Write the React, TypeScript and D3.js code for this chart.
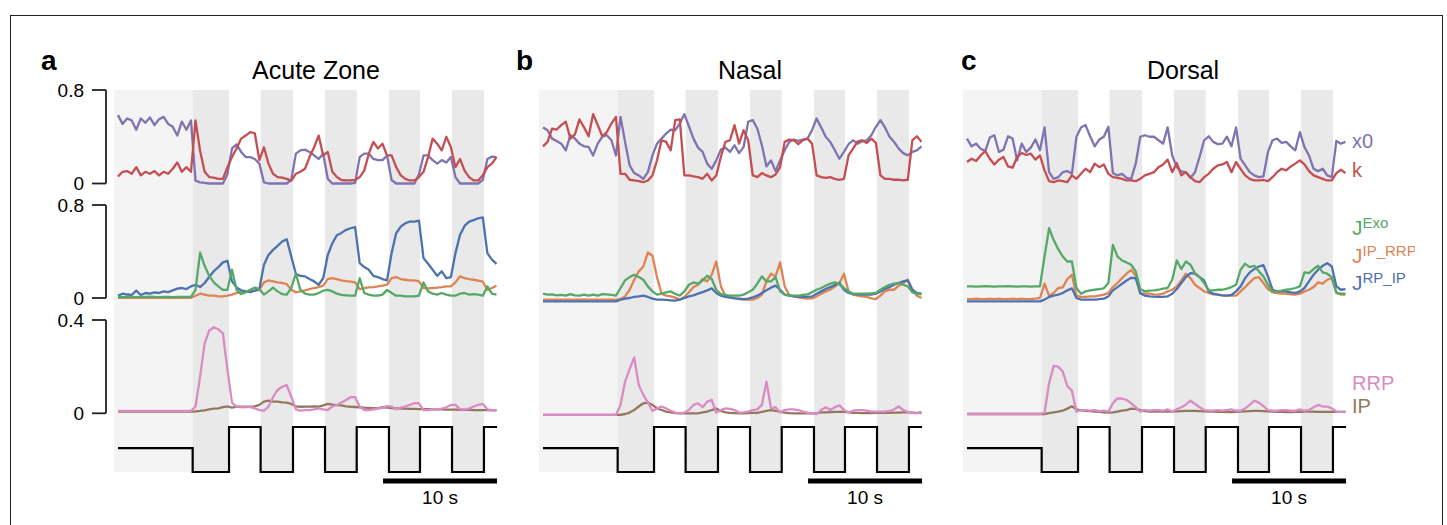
import React from "react";
import * as d3 from "d3";

const SAMPLE_DT = 0.4;
const T_END = 33.25;

const stimTimes = [0, 6.55, 9.74, 12.51, 15.35, 18.16, 20.94, 23.77, 26.49, 29.3, 32.1, 33.25];
const stimLevels = [0.53, 0, 1, 0, 1, 0, 1, 0, 1, 0, 1, 1];

const acuteX0 = [0.585,0.51,0.556,0.54,0.46,0.556,0.52,0.565,0.50,0.55,0.57,0.51,0.485,0.41,0.53,0.46,0.54,0.025,0.01,0.005,0,0,0,0,0.08,0.30,0.335,0.27,0.226,0.226,0.21,0.17,0.01,0,0,0,0,0,0.03,0.255,0.284,0.29,0.27,0.24,0.21,0.255,0.04,0,0,0,0,0,0.005,0.226,0.255,0.255,0.21,0.20,0.20,0.24,0.03,0,0,0,0,0,0.08,0.24,0.24,0.20,0.17,0.20,0.18,0.226,0.055,0,0,0,0,0,0.03,0.21,0.23,0.226];
const acuteK = [0.06,0.1,0.106,0.083,0.14,0.07,0.1,0.083,0.106,0.07,0.1,0.083,0.126,0.18,0.1,0.14,0.1,0.54,0.28,0.1,0.055,0.05,0.04,0.04,0.14,0.226,0.3,0.384,0.41,0.44,0.43,0.2,0.31,0.17,0.083,0.055,0.05,0.04,0.025,0.083,0.1,0.126,0.226,0.31,0.41,0.24,0.27,0.1,0.055,0.03,0.026,0.026,0.03,0.055,0.11,0.255,0.355,0.3,0.34,0.24,0.24,0.14,0.07,0.04,0.026,0.026,0.055,0.1,0.226,0.384,0.34,0.284,0.4,0.31,0.14,0.21,0.11,0.055,0.026,0.026,0.07,0.14,0.17,0.226];
const acuteJExo = [0.01,0.008,0.01,0.01,0.008,0.01,0.01,0.012,0.01,0.008,0.01,0.01,0.008,0.01,0.01,0.01,0.01,0.07,0.39,0.277,0.19,0.134,0.1,0.07,0.07,0.243,0.07,0.034,0.049,0.07,0.09,0.077,0.029,0.057,0.09,0.057,0.034,0.029,0.086,0.209,0.07,0.037,0.029,0.029,0.043,0.063,0.07,0.057,0.037,0.026,0.023,0.02,0.02,0.17,0.043,0.029,0.02,0.02,0.029,0.07,0.043,0.02,0.02,0.014,0.014,0.014,0.02,0.134,0.057,0.037,0.029,0.043,0.029,0.02,0.02,0.037,0.043,0.029,0.034,0.029,0.02,0.1,0.037,0.029];
const acuteJIpRrp = [0.002,0.002,0.002,0.002,0.002,0.002,0.002,0.002,0.002,0.002,0.002,0.002,0.002,0.002,0.002,0.002,0.002,0.02,0.037,0.029,0.02,0.02,0.014,0.014,0.02,0.029,0.043,0.049,0.057,0.057,0.063,0.07,0.134,0.151,0.143,0.134,0.129,0.12,0.07,0.049,0.057,0.066,0.077,0.086,0.094,0.106,0.163,0.171,0.163,0.151,0.146,0.14,0.134,0.077,0.086,0.091,0.094,0.1,0.106,0.114,0.171,0.18,0.163,0.157,0.151,0.151,0.143,0.086,0.083,0.086,0.089,0.094,0.1,0.1,0.134,0.186,0.171,0.163,0.157,0.149,0.14,0.07,0.086,0.106];
const acuteJRpIp = [0.02,0.037,0.03,0.026,0.063,0.026,0.043,0.037,0.049,0.043,0.057,0.051,0.066,0.08,0.086,0.077,0.1,0.114,0.094,0.129,0.18,0.23,0.266,0.306,0.32,0.143,0.091,0.066,0.057,0.051,0.063,0.077,0.286,0.37,0.414,0.449,0.486,0.506,0.357,0.209,0.19,0.186,0.163,0.143,0.114,0.17,0.37,0.47,0.54,0.56,0.586,0.6,0.609,0.3,0.266,0.243,0.19,0.18,0.163,0.151,0.386,0.557,0.614,0.643,0.657,0.657,0.666,0.343,0.294,0.243,0.19,0.23,0.17,0.18,0.386,0.543,0.62,0.657,0.67,0.686,0.694,0.386,0.33,0.294];
const acuteRRP = [0.01,0.01,0.01,0.01,0.01,0.01,0.01,0.01,0.01,0.01,0.01,0.01,0.01,0.01,0.01,0.01,0.01,0.029,0.157,0.3,0.354,0.369,0.36,0.343,0.186,0.046,0.029,0.029,0.029,0.026,0.021,0.014,0.011,0.029,0.069,0.1,0.114,0.121,0.071,0.017,0.011,0.014,0.014,0.017,0.021,0.017,0.014,0.029,0.036,0.046,0.057,0.069,0.069,0.029,0.014,0.014,0.017,0.02,0.023,0.031,0.029,0.017,0.024,0.029,0.036,0.043,0.043,0.014,0.014,0.017,0.017,0.02,0.026,0.036,0.036,0.017,0.017,0.02,0.029,0.036,0.04,0.017,0.014,0.014];
const acuteIP = [0.007,0.007,0.007,0.007,0.007,0.007,0.007,0.007,0.007,0.007,0.007,0.007,0.007,0.007,0.007,0.007,0.007,0.008,0.01,0.013,0.017,0.02,0.021,0.026,0.03,0.024,0.029,0.027,0.027,0.029,0.03,0.036,0.05,0.054,0.05,0.05,0.047,0.046,0.04,0.03,0.028,0.029,0.029,0.03,0.029,0.034,0.04,0.037,0.035,0.034,0.03,0.028,0.027,0.026,0.024,0.023,0.022,0.021,0.026,0.024,0.022,0.021,0.02,0.02,0.019,0.019,0.018,0.018,0.018,0.017,0.017,0.017,0.016,0.016,0.016,0.015,0.015,0.015,0.014,0.014,0.014,0.014,0.013,0.013];

const nasalX0 = [0.48,0.456,0.384,0.364,0.341,0.284,0.413,0.384,0.341,0.318,0.313,0.24,0.341,0.4,0.413,0.37,0.24,0.57,0.356,0.155,0.089,0.069,0.04,0.097,0.24,0.341,0.384,0.427,0.46,0.456,0.513,0.594,0.49,0.384,0.307,0.27,0.17,0.126,0.198,0.29,0.307,0.27,0.327,0.26,0.313,0.528,0.542,0.47,0.327,0.146,0.198,0.106,0.198,0.284,0.356,0.376,0.364,0.376,0.384,0.456,0.556,0.48,0.4,0.356,0.284,0.212,0.27,0.336,0.37,0.341,0.361,0.37,0.413,0.485,0.542,0.48,0.4,0.356,0.298,0.26,0.24,0.27,0.284,0.318];
const nasalK = [0.318,0.356,0.47,0.462,0.5,0.528,0.384,0.42,0.548,0.48,0.404,0.594,0.5,0.404,0.44,0.513,0.57,0.083,0.083,0.032,0.026,0.02,0.011,0.026,0.069,0.198,0.37,0.356,0.284,0.542,0.548,0.069,0.069,0.06,0.054,0.04,0.083,0.026,0.069,0.227,0.356,0.37,0.5,0.341,0.456,0.37,0.069,0.054,0.089,0.069,0.054,0.077,0.14,0.356,0.376,0.37,0.336,0.37,0.384,0.341,0.069,0.054,0.049,0.054,0.04,0.032,0.04,0.24,0.298,0.361,0.37,0.347,0.384,0.347,0.069,0.04,0.04,0.032,0.032,0.026,0.032,0.37,0.404,0.356];
const nasalJExo = [0.037,0.029,0.031,0.023,0.026,0.02,0.034,0.023,0.02,0.029,0.02,0.029,0.02,0.034,0.031,0.026,0.02,0.086,0.151,0.18,0.2,0.18,0.157,0.1,0.057,0.029,0.037,0.049,0.057,0.037,0.02,0.057,0.114,0.134,0.123,0.151,0.191,0.163,0.071,0.034,0.026,0.02,0.02,0.02,0.029,0.049,0.071,0.123,0.186,0.143,0.143,0.18,0.057,0.029,0.02,0.02,0.02,0.026,0.031,0.049,0.071,0.086,0.106,0.123,0.134,0.117,0.086,0.057,0.037,0.037,0.037,0.037,0.04,0.043,0.071,0.094,0.114,0.123,0.129,0.114,0.1,0.049,0.037,0.031];
const nasalJIpRrp = [-0.014,-0.014,-0.014,-0.014,-0.014,-0.014,-0.014,-0.014,-0.014,-0.014,-0.014,-0.014,-0.014,-0.014,-0.014,-0.014,-0.014,-0.009,0.014,0.071,0.157,0.229,0.271,0.391,0.363,0.18,0.037,0.02,0.014,0.003,-0.014,0.009,0.049,0.094,0.114,0.163,0.143,0.2,0.314,0.1,0.02,0.009,0,-0.009,-0.014,-0.014,-0.014,0,0.029,0.143,0.209,0.186,0.306,0.1,0.026,0.014,0.006,0,-0.006,-0.003,0.014,0.037,0.057,0.071,0.1,0.129,0.209,0.057,0.029,0.02,0.014,0.009,-0.003,-0.009,0.02,0.057,0.071,0.071,0.106,0.129,0.157,0.071,0.02,0];
const nasalJRpIp = [-0.029,-0.029,-0.029,-0.029,-0.029,-0.029,-0.029,-0.029,-0.029,-0.029,-0.029,-0.029,-0.029,-0.029,-0.029,-0.029,-0.029,-0.014,-0.006,0,0.009,0.014,0.02,0.009,-0.006,-0.014,-0.014,-0.017,-0.02,-0.023,-0.014,0,0.014,0.023,0.037,0.051,0.066,0.083,0.043,0.02,0.009,0.003,-0.003,-0.006,-0.009,-0.006,0.006,0.02,0.043,0.066,0.089,0.106,0.071,0.029,0.02,0.014,0.011,0.009,0.009,0.014,0.037,0.057,0.077,0.094,0.111,0.129,0.071,0.043,0.034,0.031,0.029,0.029,0.029,0.037,0.057,0.077,0.094,0.114,0.129,0.143,0.151,0.071,0.043,0.037];
const nasalRRP = [-0.007,-0.007,-0.007,-0.007,-0.007,-0.007,-0.007,-0.007,-0.007,-0.007,-0.007,-0.007,-0.007,-0.007,-0.007,-0.007,-0.007,0.036,0.136,0.19,0.24,0.121,0.079,0.046,0.011,0.02,0.029,0.021,0.011,0.003,0,0.003,0.014,0.036,0.043,0.026,0.05,0.057,0.003,0.014,0.021,0.019,0.014,0.003,0.004,0.007,0.014,0.017,0.036,0.136,0.021,0.026,0.003,0.014,0.017,0.017,0.014,0.007,0.003,0,-0.003,0.014,0.026,0.014,0.026,0.034,0.014,0.003,0.011,0.014,0.014,0.011,0.007,0.007,0.007,0.007,0.01,0.017,0.029,0.014,0.006,0.003,0,0.007];
const nasalIP = [-0.007,-0.007,-0.007,-0.007,-0.007,-0.007,-0.007,-0.007,-0.007,-0.007,-0.007,-0.007,-0.007,-0.007,-0.007,-0.007,-0.007,-0.007,-0.003,0.003,0.014,0.029,0.043,0.046,0.036,0.021,0.014,0.007,0.004,0.001,0,0,0,0,0,0.004,0.007,0.014,0.02,0.01,0.004,0.002,0.001,0,0,0.001,0.002,0.002,0.006,0.01,0.014,0.01,0.007,0.003,0.001,0,0,0,0,0,0,0.004,0.004,0.005,0.006,0.006,0.007,0.004,0.002,0.002,0.001,0.001,0.001,0.002,0.002,0.002,0.002,0.003,0.003,0.004,0.004,0.003,0.002,0.002];

const dorsalX0 = [0.384,0.318,0.341,0.298,0.278,0.393,0.413,0.27,0.29,0.404,0.384,0.198,0.341,0.27,0.307,0.376,0.284,0.48,0.097,0.04,0.054,0.097,0.106,0.083,0.4,0.48,0.5,0.404,0.318,0.376,0.4,0.485,0.089,0.069,0.083,0.049,0.04,0.17,0.4,0.413,0.4,0.4,0.37,0.341,0.48,0.24,0.14,0.103,0.097,0.049,0.097,0.227,0.37,0.404,0.356,0.336,0.341,0.4,0.318,0.48,0.212,0.155,0.097,0.069,0.054,0.06,0.27,0.37,0.384,0.347,0.356,0.318,0.284,0.44,0.313,0.24,0.126,0.106,0.126,0.069,0.054,0.364,0.341,0.356];
const dorsalK = [0.184,0.212,0.192,0.24,0.278,0.212,0.163,0.204,0.227,0.146,0.135,0.227,0.261,0.244,0.255,0.204,0.24,0.112,0.02,0.011,0.026,0.02,0.011,0.069,0.04,0.083,0.126,0.097,0.17,0.14,0.163,0.083,0.054,0.049,0.04,0.026,0.026,0.02,0.04,0.069,0.083,0.097,0.14,0.163,0.204,0.097,0.175,0.069,0.097,0.054,0.02,0.011,0.054,0.083,0.126,0.155,0.163,0.184,0.097,0.184,0.126,0.069,0.04,0.026,0.026,0.03,0.02,0.054,0.097,0.126,0.112,0.146,0.17,0.198,0.163,0.106,0.069,0.054,0.04,0.026,0.026,0.089,0.118,0.089];
const dorsalJExo = [0.1,0.1,0.097,0.1,0.103,0.1,0.097,0.1,0.1,0.103,0.1,0.097,0.1,0.1,0.097,0.1,0.1,0.357,0.6,0.5,0.42,0.357,0.314,0.314,0.086,0.037,0.057,0.066,0.071,0.077,0.083,0.129,0.457,0.357,0.323,0.306,0.286,0.229,0.077,0.057,0.063,0.066,0.071,0.08,0.086,0.157,0.323,0.249,0.314,0.286,0.214,0.18,0.129,0.066,0.066,0.071,0.071,0.08,0.094,0.114,0.243,0.294,0.266,0.277,0.229,0.186,0.114,0.057,0.057,0.063,0.071,0.077,0.086,0.1,0.22,0.214,0.249,0.277,0.22,0.209,0.18,0.043,0.037,0.037];
const dorsalJIpRrp = [-0.009,-0.009,-0.006,-0.009,-0.009,-0.006,-0.009,-0.006,-0.009,-0.009,-0.006,-0.009,-0.006,-0.009,-0.009,-0.006,0,0.123,0.02,0.043,0.086,0.091,0.163,0.2,0.02,0.009,0.009,0.014,0.014,0.02,0.029,0.043,0.094,0.129,0.171,0.209,0.243,0.191,0.037,0.037,0.037,0.031,0.029,0.037,0.057,0.071,0.1,0.151,0.209,0.171,0.114,0.086,0.057,0.043,0.031,0.029,0.023,0.02,0.02,0.02,0.057,0.094,0.134,0.171,0.18,0.129,0.077,0.049,0.043,0.037,0.037,0.031,0.029,0.037,0.057,0.071,0.094,0.134,0.123,0.157,0.171,0.049,0.029,0.029];
const dorsalJRpIp = [-0.029,-0.029,-0.029,-0.029,-0.029,-0.029,-0.029,-0.029,-0.029,-0.029,-0.029,-0.029,-0.029,-0.029,-0.029,-0.029,-0.029,-0.014,0.009,0.02,0.029,0.043,0.066,0.083,0,-0.014,-0.014,-0.014,-0.014,-0.009,-0.006,0.014,0.066,0.094,0.123,0.151,0.174,0.171,0.043,0.02,0.014,0.011,0.009,0.009,0.014,0.037,0.077,0.129,0.18,0.214,0.209,0.18,0.151,0.057,0.037,0.029,0.023,0.02,0.026,0.057,0.1,0.171,0.22,0.249,0.271,0.283,0.186,0.071,0.057,0.057,0.054,0.049,0.043,0.057,0.086,0.143,0.2,0.243,0.277,0.3,0.271,0.1,0.071,0.077];
const dorsalRRP = [-0.003,-0.003,-0.003,-0.003,-0.003,-0.003,-0.003,-0.003,-0.003,-0.003,-0.003,-0.003,-0.003,-0.003,-0.003,-0.003,-0.003,0.003,0.129,0.203,0.2,0.179,0.117,0.097,0.007,0.014,0.014,0.011,0.014,0.009,0.011,0.007,0.043,0.064,0.063,0.057,0.043,0.026,0.007,0.014,0.011,0.014,0.014,0.011,0.017,0.007,0.017,0.026,0.037,0.054,0.04,0.026,0.014,0.011,0.011,0.014,0.011,0.014,0.017,0.011,0.011,0.021,0.036,0.054,0.046,0.031,0.014,0.011,0.011,0.014,0.014,0.011,0.011,0.017,0.011,0.014,0.026,0.036,0.029,0.029,0.021,0.007,0.006,0.007];
const dorsalIP = [-0.003,-0.003,-0.003,-0.003,-0.003,-0.003,-0.003,-0.003,-0.003,-0.003,-0.003,-0.003,-0.003,-0.003,-0.003,-0.003,-0.003,-0.003,0.001,0.004,0.007,0.011,0.02,0.03,0.017,0.013,0.011,0.009,0.007,0.006,0.004,0.003,0.004,0.007,0.011,0.014,0.02,0.019,0.014,0.009,0.007,0.007,0.007,0.007,0.007,0.007,0.008,0.009,0.01,0.01,0.01,0.009,0.008,0.007,0.007,0.006,0.006,0.005,0.005,0.006,0.007,0.008,0.009,0.01,0.01,0.009,0.008,0.007,0.006,0.006,0.005,0.005,0.006,0.006,0.007,0.007,0.007,0.006,0.006,0.006,0.006,0.006,0.006,0.006];

const panelLetters = ["a", "b", "c"];
const panelTitles = ["Acute Zone", "Nasal", "Dorsal"];
const yTicksTop = [0, 0.8];
const yTicksMid = [0, 0.8];
const yTicksBot = [0, 0.4];

// ---------- layout ----------
const W = 1447;
const H = 525;
const PANEL_LEFT = [114, 539, 963];
const TITLE_X = [316, 750, 1183];
const LETTER_X = [41, 516, 961];
const DATA_OFFSET = 4;
const PX_PER_S = 11.4;
const BG_TOP = 90;
const BG_BOTTOM = 472;
const FONT = "'Liberation Sans', Arial, Helvetica, sans-serif";

const COLORS = {
  x0: "#8172b2",
  k: "#c44e52",
  exo: "#55a868",
  ipRrp: "#dd8452",
  rpIp: "#4c72b0",
  rrp: "#da8bc3",
  ip: "#937860",
};

const rows = [
  { y0: 183.5, y1: 90, vmax: 0.8, ticks: yTicksTop },
  { y0: 298, y1: 205, vmax: 0.8, ticks: yTicksMid },
  { y0: 413.3, y1: 320, vmax: 0.4, ticks: yTicksBot },
];

const panelData = [
  { x0: acuteX0, k: acuteK, exo: acuteJExo, ipRrp: acuteJIpRrp, rpIp: acuteJRpIp, rrp: acuteRRP, ip: acuteIP },
  { x0: nasalX0, k: nasalK, exo: nasalJExo, ipRrp: nasalJIpRrp, rpIp: nasalJRpIp, rrp: nasalRRP, ip: nasalIP },
  { x0: dorsalX0, k: dorsalK, exo: dorsalJExo, ipRrp: dorsalJIpRrp, rpIp: dorsalJRpIp, rrp: dorsalRRP, ip: dorsalIP },
];

const rowSeries: (keyof typeof COLORS)[][] = [
  ["x0", "k"],
  ["ipRrp", "rpIp", "exo"],
  ["ip", "rrp"],
];

function lowIntervals() {
  const out: [number, number][] = [];
  for (let i = 0; i < stimLevels.length - 1; i++) {
    if (stimLevels[i] === 0) out.push([stimTimes[i], stimTimes[i + 1]]);
  }
  return out;
}

function Panel({ idx }: { idx: number }) {
  const left = PANEL_LEFT[idx];
  const x = d3
    .scaleLinear()
    .domain([0, T_END])
    .range([left + DATA_OFFSET, left + DATA_OFFSET + T_END * PX_PER_S]);
  const data = panelData[idx];
  const lows = lowIntervals();
  const stimY = d3.scaleLinear().domain([0, 1]).range([472, 427]);
  const stimLine = d3
    .line<number>()
    .x((_, i) => x(stimTimes[i]))
    .y((d) => stimY(d))
    .curve(d3.curveStepAfter);

  return (
    <g>
      <rect x={left} y={BG_TOP} width={x(stimTimes[1]) - left} height={BG_BOTTOM - BG_TOP} fill="#f4f4f4" />
      {lows.map(([a, b], i) => (
        <rect key={i} x={x(a)} y={BG_TOP} width={x(b) - x(a)} height={BG_BOTTOM - BG_TOP} fill="#e9e9e9" />
      ))}
      {rows.map((row, r) => {
        const y = d3.scaleLinear().domain([0, row.vmax]).range([row.y0, row.y1]);
        const line = d3
          .line<number>()
          .x((_, i) => x(i * SAMPLE_DT))
          .y((d) => y(d))
          .curve(d3.curveLinear);
        return (
          <g key={r}>
            {rowSeries[r].map((s) => (
              <path
                key={s}
                d={line((data as any)[s]) || ""}
                fill="none"
                stroke={COLORS[s]}
                strokeWidth={2.3}
                strokeLinejoin="round"
              />
            ))}
          </g>
        );
      })}
      <path d={stimLine(stimLevels) || ""} fill="none" stroke="#000" strokeWidth={2.2} />
      <line x1={x(T_END - 10)} x2={x(T_END)} y1={481} y2={481} stroke="#000" strokeWidth={5} />
      <text x={(x(T_END - 10) + x(T_END)) / 2} y={504} textAnchor="middle" fontSize={19} fontFamily={FONT}>
        10 s
      </text>
      <text x={TITLE_X[idx]} y={79} textAnchor="middle" fontSize={25} fontFamily={FONT}>
        {panelTitles[idx]}
      </text>
      <text x={LETTER_X[idx]} y={70} fontSize={28} fontWeight="bold" fontFamily={FONT}>
        {panelLetters[idx]}
      </text>
    </g>
  );
}

function Axes() {
  const axX = 106;
  return (
    <g>
      {rows.map((row, r) => {
        const y = d3.scaleLinear().domain([0, row.vmax]).range([row.y0, row.y1]);
        return (
          <g key={r}>
            <line x1={axX} x2={axX} y1={y(row.vmax)} y2={y(0)} stroke="#222" strokeWidth={1.8} />
            {row.ticks.map((t) => (
              <g key={t}>
                <line x1={92} x2={axX} y1={y(t)} y2={y(t)} stroke="#222" strokeWidth={1.8} />
                <text x={84} y={y(t)} dy="0.35em" textAnchor="end" fontSize={19} fontFamily={FONT}>
                  {String(t)}
                </text>
              </g>
            ))}
          </g>
        );
      })}
    </g>
  );
}

function Legend() {
  const lx = 1352;
  return (
    <g fontFamily={FONT} clipPath="url(#figclip)">
      <text x={lx} y={148} fontSize={20} fill={COLORS.x0}>x0</text>
      <text x={lx} y={177} fontSize={20} fill={COLORS.k}>k</text>
      <text x={lx} y={235} fontSize={21} fill={COLORS.exo}>
        J<tspan fontSize={15} dy={-7}>Exo</tspan>
      </text>
      <text x={lx} y={263} fontSize={21} fill={COLORS.ipRrp}>
        J<tspan fontSize={15} dy={-7}>IP_RRP</tspan>
      </text>
      <text x={lx} y={290} fontSize={21} fill={COLORS.rpIp}>
        J<tspan fontSize={15} dy={-7}>RP_IP</tspan>
      </text>
      <text x={lx} y={390} fontSize={20} fill={COLORS.rrp}>RRP</text>
      <text x={lx} y={413} fontSize={20} fill={COLORS.ip}>IP</text>
    </g>
  );
}

export default function App() {
  return (
    <div style={{ position: "absolute", left: 0, top: 0 }}>
      <svg width={W} height={H} viewBox={`0 0 ${W} ${H}`} style={{ display: "block", background: "#fff" }}>
        <defs>
          <clipPath id="figclip">
            <rect x={0} y={0} width={1415} height={H} />
          </clipPath>
        </defs>
        <rect x={0} y={0} width={W} height={H} fill="#fff" />
        <rect x={10.5} y={15.5} width={1432} height={H} fill="none" stroke="#222" strokeWidth={1} />
        {[0, 1, 2].map((i) => (
          <Panel key={i} idx={i} />
        ))}
        <Axes />
        <Legend />
      </svg>
    </div>
  );
}
